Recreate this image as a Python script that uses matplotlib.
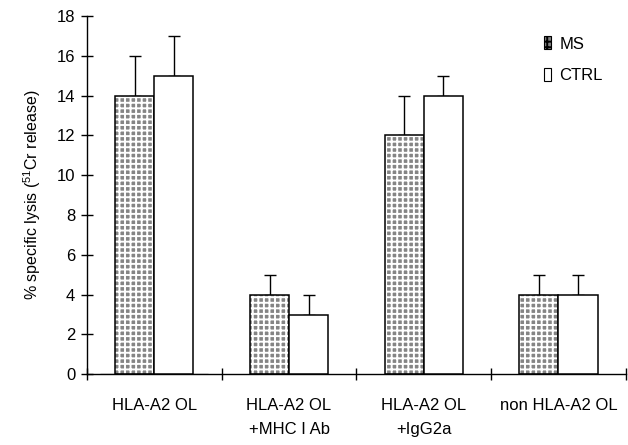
import matplotlib
matplotlib.use("Agg")
import matplotlib.pyplot as plt
import numpy as np

plt.rcParams["font.family"] = ["Liberation Sans", "DejaVu Sans"]
plt.rcParams["mathtext.fontset"] = "custom"
plt.rcParams["mathtext.rm"] = "Liberation Sans"
plt.rcParams["hatch.linewidth"] = 1.4

# %%
# Values (% specific lysis, upper error only).
categories = ["HLA-A2 OL", "HLA-A2 OL\n+MHC I Ab", "HLA-A2 OL\n+IgG2a", "non HLA-A2 OL"]
ms_vals = [14, 4, 12, 4]
ms_err = [2, 1, 2, 1]
ctrl_vals = [15, 3, 14, 4]
ctrl_err = [2, 1, 1, 1]

fig = plt.figure(figsize=(6.28, 4.45), dpi=100)
ax = fig.add_axes([0.1385, 0.159, 0.858, 0.805])

x = np.arange(len(categories))
w = 0.29

# MS: grey with white grid texture, then a black outline on top
ax.bar(x - w / 2, ms_vals, w, color="#858585", edgecolor="white",
       hatch="+++", linewidth=0, zorder=2)
ax.bar(x - w / 2, ms_vals, w, facecolor="none", edgecolor="black",
       linewidth=1.1, zorder=3)
ax.bar(x + w / 2, ctrl_vals, w, color="white", edgecolor="black",
       linewidth=1.1, zorder=3)

ax.errorbar(x - w / 2, ms_vals, yerr=[np.zeros(len(ms_err)), ms_err],
            fmt="none", ecolor="black", elinewidth=1, capsize=4.3, capthick=1, zorder=1)
ax.errorbar(x + w / 2, ctrl_vals, yerr=[np.zeros(len(ctrl_err)), ctrl_err],
            fmt="none", ecolor="black", elinewidth=1, capsize=4.3, capthick=1, zorder=1)

# legend proxies
ms_h = ax.bar([0], [0], color="#858585", edgecolor="black", hatch="+++", linewidth=0.8)
ctrl_h = ax.bar([0], [0], color="white", edgecolor="black", linewidth=0.8)
ax.legend([ms_h, ctrl_h], ["MS", "CTRL"], loc="upper right",
          bbox_to_anchor=(0.985, 0.985), frameon=False, fontsize=12,
          handlelength=0.45, handleheight=0.8, handletextpad=0.5,
          labelspacing=1.0)

ax.set_xlim(-0.5, len(categories) - 0.5)
ax.set_ylim(0, 18)
ax.set_yticks(np.arange(0, 19, 2))
ax.set_xticks(x)
ax.set_xticklabels(categories, fontsize=12, linespacing=1.8, va="top")
ax.set_xticks(np.arange(-0.5, len(categories), 1), minor=True)
ax.tick_params(axis="x", which="major", length=0, pad=17)
ax.tick_params(axis="x", which="minor", direction="inout", length=9, width=1)
ax.tick_params(axis="y", direction="inout", length=9, width=1, labelsize=12, pad=4)

for side in ("top", "right"):
    ax.spines[side].set_visible(False)
for side in ("left", "bottom"):
    ax.spines[side].set_linewidth(1)

ax.set_ylabel(r"% specific lysis ($^{51}$Cr release)", fontsize=11.5, labelpad=10)

fig.savefig("out.png", dpi=100)
